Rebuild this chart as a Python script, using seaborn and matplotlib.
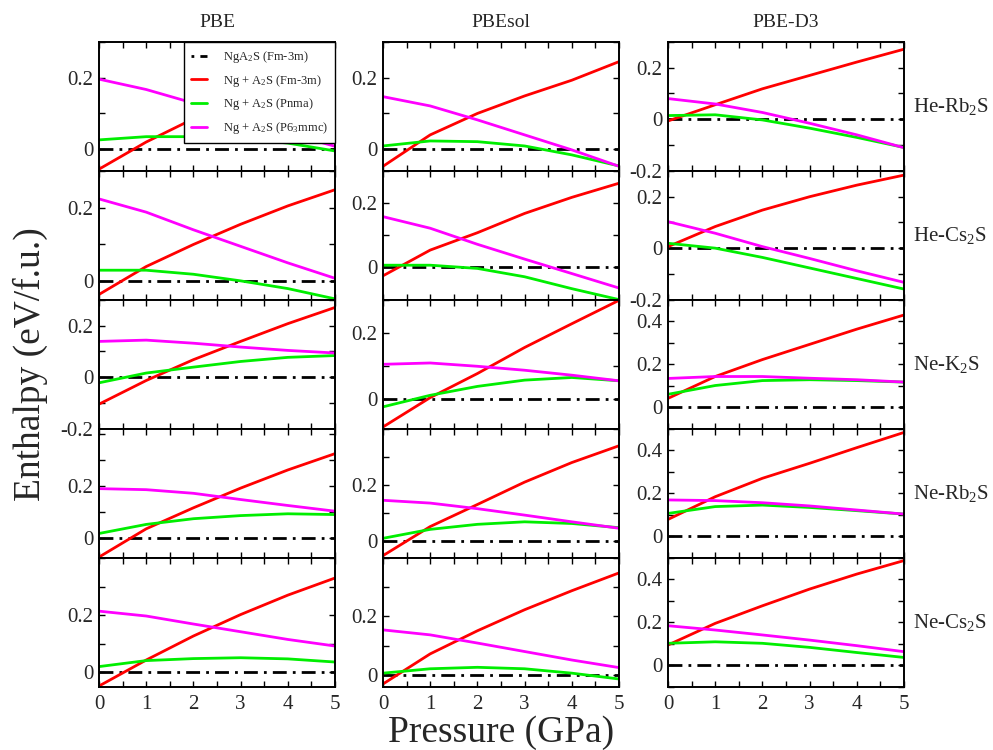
import numpy as np
import pandas as pd
import seaborn as sns
import matplotlib
matplotlib.use("Agg")
import matplotlib.pyplot as plt
from matplotlib.lines import Line2D
from matplotlib.ticker import MultipleLocator, FuncFormatter, FixedLocator

sns.set_style("ticks")
plt.rcParams['font.family'] = ['Liberation Serif', 'DejaVu Serif']
plt.rcParams['mathtext.fontset'] = 'custom'
plt.rcParams['mathtext.rm'] = 'Liberation Serif'
plt.rcParams['mathtext.it'] = 'Liberation Serif:italic'
plt.rcParams['mathtext.bf'] = 'Liberation Serif:bold'

# ---------------- data ----------------
pressure = [0, 1, 2, 3, 4, 5]
functionals = ["PBE", "PBEsol", "PBE-D3"]
systems = ["He-Rb$_2$S", "He-Cs$_2$S", "Ne-K$_2$S", "Ne-Rb$_2$S", "Ne-Cs$_2$S"]
series_names = ["NgA$_2$S (Fm-3m)", "Ng + A$_2$S (Fm-3m)", "Ng + A$_2$S (Pnma)", "Ng + A$_2$S (P6$_3$mmc)"]

ref_NgA2S = [0, 0, 0, 0, 0, 0]

# PBE
PBE_HeRb2S_Fm3m   = [-0.056, 0.020, 0.085, 0.140, 0.190, 0.230]
PBE_HeRb2S_Pnma   = [0.026, 0.035, 0.035, 0.029, 0.017, -0.005]
PBE_HeRb2S_P63mmc = [0.196, 0.167, 0.129, 0.088, 0.045, 0.008]
PBE_HeCs2S_Fm3m   = [-0.036, 0.040, 0.100, 0.155, 0.205, 0.249]
PBE_HeCs2S_Pnma   = [0.030, 0.030, 0.019, 0.001, -0.020, -0.048]
PBE_HeCs2S_P63mmc = [0.224, 0.188, 0.140, 0.095, 0.050, 0.008]
PBE_NeK2S_Fm3m    = [-0.105, -0.013, 0.068, 0.139, 0.208, 0.271]
PBE_NeK2S_Pnma    = [-0.022, 0.016, 0.039, 0.061, 0.077, 0.084]
PBE_NeK2S_P63mmc  = [0.139, 0.144, 0.132, 0.117, 0.104, 0.094]
PBE_NeRb2S_Fm3m   = [-0.074, 0.035, 0.116, 0.192, 0.262, 0.325]
PBE_NeRb2S_Pnma   = [0.017, 0.052, 0.074, 0.086, 0.093, 0.090]
PBE_NeRb2S_P63mmc = [0.190, 0.186, 0.172, 0.148, 0.125, 0.103]
PBE_NeCs2S_Fm3m   = [-0.048, 0.043, 0.127, 0.202, 0.270, 0.330]
PBE_NeCs2S_Pnma   = [0.020, 0.041, 0.048, 0.051, 0.047, 0.036]
PBE_NeCs2S_P63mmc = [0.214, 0.197, 0.169, 0.142, 0.115, 0.092]

# PBEsol
PBEsol_HeRb2S_Fm3m   = [-0.048, 0.040, 0.100, 0.149, 0.193, 0.245]
PBEsol_HeRb2S_Pnma   = [0.009, 0.023, 0.021, 0.009, -0.016, -0.047]
PBEsol_HeRb2S_P63mmc = [0.147, 0.121, 0.082, 0.040, -0.002, -0.048]
PBEsol_HeCs2S_Fm3m   = [-0.026, 0.054, 0.108, 0.168, 0.218, 0.262]
PBEsol_HeCs2S_Pnma   = [0.007, 0.007, -0.003, -0.029, -0.066, -0.100]
PBEsol_HeCs2S_P63mmc = [0.158, 0.122, 0.072, 0.026, -0.019, -0.064]
PBEsol_NeK2S_Fm3m    = [-0.085, 0.004, 0.077, 0.156, 0.228, 0.299]
PBEsol_NeK2S_Pnma    = [-0.024, 0.011, 0.038, 0.057, 0.065, 0.055]
PBEsol_NeK2S_P63mmc  = [0.105, 0.109, 0.099, 0.087, 0.072, 0.055]
PBEsol_NeRb2S_Fm3m   = [-0.053, 0.051, 0.130, 0.210, 0.280, 0.340]
PBEsol_NeRb2S_Pnma   = [0.009, 0.041, 0.059, 0.068, 0.062, 0.047]
PBEsol_NeRb2S_P63mmc = [0.145, 0.135, 0.115, 0.092, 0.068, 0.045]
PBEsol_NeCs2S_Fm3m   = [-0.031, 0.072, 0.151, 0.223, 0.288, 0.349]
PBEsol_NeCs2S_Pnma   = [0.006, 0.021, 0.026, 0.021, 0.006, -0.014]
PBEsol_NeCs2S_P63mmc = [0.154, 0.137, 0.109, 0.080, 0.051, 0.025]

# PBE-D3
D3_HeRb2S_Fm3m   = [-0.007, 0.056, 0.118, 0.170, 0.222, 0.272]
D3_HeRb2S_Pnma   = [0.014, 0.017, -0.003, -0.035, -0.071, -0.110]
D3_HeRb2S_P63mmc = [0.080, 0.059, 0.026, -0.016, -0.061, -0.111]
D3_HeCs2S_Fm3m   = [0.006, 0.084, 0.148, 0.200, 0.245, 0.284]
D3_HeCs2S_Pnma   = [0.019, 0.000, -0.036, -0.077, -0.118, -0.159]
D3_HeCs2S_P63mmc = [0.103, 0.058, 0.006, -0.040, -0.088, -0.133]
D3_NeK2S_Fm3m    = [0.041, 0.143, 0.222, 0.293, 0.364, 0.430]
D3_NeK2S_Pnma    = [0.060, 0.101, 0.124, 0.128, 0.124, 0.117]
D3_NeK2S_P63mmc  = [0.134, 0.143, 0.143, 0.135, 0.128, 0.117]
D3_NeRb2S_Fm3m   = [0.078, 0.184, 0.270, 0.340, 0.413, 0.484]
D3_NeRb2S_Pnma   = [0.106, 0.138, 0.145, 0.134, 0.119, 0.103]
D3_NeRb2S_P63mmc = [0.169, 0.166, 0.156, 0.141, 0.122, 0.103]
D3_NeCs2S_Fm3m   = [0.094, 0.195, 0.277, 0.355, 0.425, 0.488]
D3_NeCs2S_Pnma   = [0.102, 0.109, 0.102, 0.083, 0.059, 0.036]
D3_NeCs2S_P63mmc = [0.184, 0.164, 0.141, 0.117, 0.091, 0.063]

panels = {
    ("PBE", 0): (PBE_HeRb2S_Fm3m, PBE_HeRb2S_Pnma, PBE_HeRb2S_P63mmc),
    ("PBE", 1): (PBE_HeCs2S_Fm3m, PBE_HeCs2S_Pnma, PBE_HeCs2S_P63mmc),
    ("PBE", 2): (PBE_NeK2S_Fm3m, PBE_NeK2S_Pnma, PBE_NeK2S_P63mmc),
    ("PBE", 3): (PBE_NeRb2S_Fm3m, PBE_NeRb2S_Pnma, PBE_NeRb2S_P63mmc),
    ("PBE", 4): (PBE_NeCs2S_Fm3m, PBE_NeCs2S_Pnma, PBE_NeCs2S_P63mmc),
    ("PBEsol", 0): (PBEsol_HeRb2S_Fm3m, PBEsol_HeRb2S_Pnma, PBEsol_HeRb2S_P63mmc),
    ("PBEsol", 1): (PBEsol_HeCs2S_Fm3m, PBEsol_HeCs2S_Pnma, PBEsol_HeCs2S_P63mmc),
    ("PBEsol", 2): (PBEsol_NeK2S_Fm3m, PBEsol_NeK2S_Pnma, PBEsol_NeK2S_P63mmc),
    ("PBEsol", 3): (PBEsol_NeRb2S_Fm3m, PBEsol_NeRb2S_Pnma, PBEsol_NeRb2S_P63mmc),
    ("PBEsol", 4): (PBEsol_NeCs2S_Fm3m, PBEsol_NeCs2S_Pnma, PBEsol_NeCs2S_P63mmc),
    ("PBE-D3", 0): (D3_HeRb2S_Fm3m, D3_HeRb2S_Pnma, D3_HeRb2S_P63mmc),
    ("PBE-D3", 1): (D3_HeCs2S_Fm3m, D3_HeCs2S_Pnma, D3_HeCs2S_P63mmc),
    ("PBE-D3", 2): (D3_NeK2S_Fm3m, D3_NeK2S_Pnma, D3_NeK2S_P63mmc),
    ("PBE-D3", 3): (D3_NeRb2S_Fm3m, D3_NeRb2S_Pnma, D3_NeRb2S_P63mmc),
    ("PBE-D3", 4): (D3_NeCs2S_Fm3m, D3_NeCs2S_Pnma, D3_NeCs2S_P63mmc),
}

# y-axis ranges (row-major per functional) and labelled ticks
ylims = {
    "PBE":    [(-0.06, 0.3), (-0.05, 0.3), (-0.2, 0.3), (-0.076, 0.42), (-0.05, 0.4)],
    "PBEsol": [(-0.06, 0.3), (-0.1, 0.3), (-0.09, 0.3), (-0.06, 0.4), (-0.04, 0.4)],
    "PBE-D3": [(-0.2, 0.3), (-0.2, 0.3), (-0.1, 0.5), (-0.1, 0.5), (-0.1, 0.5)],
}
ylabels_major = {
    "PBE":    [[0, 0.2], [0, 0.2], [-0.2, 0, 0.2], [0, 0.2], [0, 0.2]],
    "PBEsol": [[0, 0.2], [0, 0.2], [0, 0.2], [0, 0.2], [0, 0.2]],
    "PBE-D3": [[-0.2, 0, 0.2], [-0.2, 0, 0.2], [0, 0.2, 0.4], [0, 0.2, 0.4], [0, 0.2, 0.4]],
}
xticks = [0, 1, 2, 3, 4, 5]

# ---------------- styling ----------------
colors = ["black", "#ff0000", "#00ee00", "#ff00ff"]
dashdot = (0, (5, 2.2, 1, 2.2))
LW = 2.0

W, H = 993, 750
fig = plt.figure(figsize=(W / 100, H / 100), dpi=100)

col_left = [99, 383, 668]
ax_w = 236
row_top = [42, 171, 300, 429, 558]
ax_h = 128.6

fmt = FuncFormatter(lambda v, p: "0" if abs(v) < 1e-9 else f"{v:g}")

for ci, func in enumerate(functionals):
    for ri in range(5):
        l = col_left[ci] / W
        b = 1 - (row_top[ri] + ax_h) / H
        ax = fig.add_axes([l, b, ax_w / W, ax_h / H])
        red, green, mag = panels[(func, ri)]
        df = pd.DataFrame({"P": pressure, "ref": ref_NgA2S, "fm": red, "pn": green, "p6": mag})
        sns.lineplot(data=df, x="P", y="ref", ax=ax, color=colors[0], lw=LW, linestyle=dashdot)
        sns.lineplot(data=df, x="P", y="fm", ax=ax, color=colors[1], lw=LW)
        sns.lineplot(data=df, x="P", y="pn", ax=ax, color=colors[2], lw=LW)
        sns.lineplot(data=df, x="P", y="p6", ax=ax, color=colors[3], lw=LW)
        ax.set_xlim(0, 5)
        ax.set_ylim(*ylims[func][ri])
        ax.set_xlabel("")
        ax.set_ylabel("")
        ax.xaxis.set_major_locator(FixedLocator(xticks))
        ax.xaxis.set_minor_locator(MultipleLocator(0.5))
        ax.yaxis.set_major_locator(FixedLocator(ylabels_major[func][ri]))
        ax.yaxis.set_minor_locator(MultipleLocator(0.1))
        ax.yaxis.set_major_formatter(fmt)
        ax.tick_params(which="both", direction="in", top=True, right=True,
                       length=4.5, width=1.0, color="black")
        ax.tick_params(axis="y", labelsize=15, pad=4)
        ax.tick_params(axis="x", labelsize=15, pad=6)
        if ri != 4:
            ax.tick_params(axis="x", labelbottom=False)
        for s in ax.spines.values():
            s.set_linewidth(1.4)
            s.set_color("black")
        if ri == 0:
            ax.set_title(func, fontsize=14, pad=11)
        if ci == 2:
            ax.text(1.04, 0.5, systems[ri], transform=ax.transAxes, fontsize=15,
                    ha="left", va="center")
        if ci == 0 and ri == 0:
            handles = [Line2D([], [], color=colors[0], lw=LW, linestyle=(0, (1, 2.2, 3, 2.2))),
                       Line2D([], [], color=colors[1], lw=LW),
                       Line2D([], [], color=colors[2], lw=LW),
                       Line2D([], [], color=colors[3], lw=LW)]
            leg = ax.legend(handles, series_names, loc="upper right", bbox_to_anchor=(1, 1),
                            borderaxespad=0.0, fontsize=9, frameon=True, fancybox=False,
                            handlelength=1.3, handletextpad=1.3, labelspacing=0.62,
                            borderpad=0.55)
            leg.get_frame().set_edgecolor("black")
            leg.get_frame().set_linewidth(1.0)
            leg.get_frame().set_alpha(1)

fig.text(30 / W, 1 - 364 / H, "Enthalpy (eV/f.u.)", rotation=90, fontsize=27,
         ha="center", va="center")
fig.text(501 / W, 1 - 733 / H, "Pressure (GPa)", fontsize=27, ha="center", va="center")

fig.savefig("out.png", dpi=100)
